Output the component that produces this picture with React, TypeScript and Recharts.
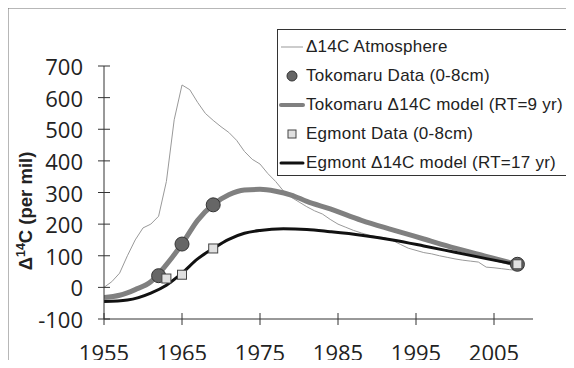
import React from "react";
import { ComposedChart, Line, Scatter, XAxis, YAxis, Legend, Customized } from "recharts";

// atmosphere record (thin grey line)
const atmYears = [
  1955, 1956, 1957, 1958, 1959, 1960, 1961, 1962, 1963, 1964, 1965, 1966, 1967, 1968,
  1969, 1970, 1971, 1972, 1973, 1974, 1975, 1976, 1977, 1978, 1979, 1980, 1981, 1982,
  1983, 1984, 1985, 1986, 1987, 1988, 1989, 1990, 1991, 1992, 1993, 1994, 1995, 1996,
  1997, 1998, 1999, 2000, 2001, 2002, 2003, 2004, 2005, 2006, 2007, 2008,
];
const atmValues = [
  0, 18, 45, 100, 150, 188, 200, 225, 335, 530, 640, 625, 585, 550,
  528, 508, 490, 465, 430, 405, 390, 360, 335, 305, 285, 270, 255, 242,
  232, 215, 200, 190, 180, 172, 165, 160, 157, 148, 136, 124, 117, 110,
  106, 100, 95, 90, 86, 83, 80, 64, 62, 59, 56, 54,
];

// model curves
const tokoModelYears = [1955, 1957, 1959, 1961, 1963, 1965, 1967, 1969, 1971, 1973, 1975, 1977, 1979, 1981, 1984, 1988, 1992, 1996, 2000, 2004, 2008];
const tokoModelValues = [-32, -25, -7, 18, 72, 137, 212, 262, 293, 308, 310, 304, 292, 272, 248, 212, 182, 153, 124, 98, 72];
const egmModelYears = [1955, 1958, 1961, 1963, 1965, 1967, 1969, 1971, 1973, 1975, 1978, 1981, 1984, 1988, 1992, 1996, 2000, 2004, 2008];
const egmModelValues = [-45, -40, -18, 7, 45, 90, 123, 152, 171, 180, 185, 183, 176, 165, 150, 131, 111, 91, 72];

// measured samples
const tokoDataYears = [1962, 1965, 1969, 2008];
const tokoDataValues = [37, 137, 261, 73];
const egmDataYears = [1963, 1965, 1969, 2008];
const egmDataValues = [28, 40, 123, 73];

const xTicks = [1955, 1965, 1975, 1985, 1995, 2005];
const yTicks = [-100, 0, 100, 200, 300, 400, 500, 600, 700];

const legendLabels = [
  "\u039414C Atmosphere",
  "Tokomaru Data (0-8cm)",
  "Tokomaru \u039414C model (RT=9 yr)",
  "Egmont Data (0-8cm)",
  "Egmont \u039414C model (RT=17 yr)",
];

const toRows = (xs: number[], vs: number[]) => xs.map((year, i) => ({ year, v: vs[i] }));

const atm = toRows(atmYears, atmValues);
const tokoModel = toRows(tokoModelYears, tokoModelValues);
const egmModel = toRows(egmModelYears, egmModelValues);
const tokoData = toRows(tokoDataYears, tokoDataValues);
const egmData = toRows(egmDataYears, egmDataValues);

const tickFont = "'Open Sans', sans-serif";

const YTick = ({ x, y, payload }: any) => (
  <g>
    <line x1={x - 6} x2={x + 6} y1={y} y2={y} stroke="#333" />
    <text x={x - 21} y={y} textAnchor="end" dominantBaseline="central" fontSize={22} fill="#222" fontFamily={tickFont}>
      {payload.value}
    </text>
  </g>
);

const XTick = ({ x, y, payload }: any) => (
  <g>
    <line x1={x} x2={x} y1={y - 6} y2={y + 6} stroke="#333" />
    <text x={x} y={y + 33} textAnchor="middle" dominantBaseline="central" fontSize={22} fill="#222" fontFamily={tickFont}>
      {payload.value}
    </text>
  </g>
);

const Dot = (p: any) => <circle cx={p.cx} cy={p.cy} r={7} fill="#666" stroke="#333" strokeWidth={1} />;
const Box = (p: any) => <rect x={p.cx - 4.5} y={p.cy - 4.5} width={9} height={9} fill="#e0e0e0" stroke="#444" strokeWidth={1} />;

const icons = [
  <line x1={3} x2={25} y1={10} y2={10} stroke="#999" strokeWidth={1} />,
  <circle cx={14} cy={10} r={5} fill="#666" stroke="#333" />,
  <line x1={3} x2={25} y1={10} y2={10} stroke="#808080" strokeWidth={4} strokeLinecap="round" />,
  <rect x={10} y={6} width={8} height={8} fill="#e0e0e0" stroke="#444" />,
  <line x1={3} x2={25} y1={10} y2={10} stroke="#111" strokeWidth={3} strokeLinecap="round" />,
];

const LegendBox = () => (
  <div
    style={{
      boxSizing: "border-box",
      width: 292,
      height: 145,
      background: "#fff",
      paddingTop: 2,
      fontFamily: "'Liberation Sans', Arial, sans-serif",
      fontSize: 17,
      letterSpacing: 0.25,
      color: "#222",
      overflow: "hidden",
    }}
  >
    {legendLabels.map((label, i) => (
      <div key={label} style={{ height: 29.2, display: "flex", alignItems: "center", whiteSpace: "nowrap" }}>
        <svg width={28} height={20} style={{ flex: "none" }}>
          {icons[i]}
        </svg>
        <span>{label}</span>
      </div>
    ))}
  </div>
);

// outer frame and legend outline
const Frame = () => (
  <g>
    <path d="M7.5 368 V7.5 H574" fill="none" stroke="#707070" strokeWidth={2} />
    <rect x={277.5} y={29.5} width={293} height={146} fill="#fff" stroke="#333" strokeWidth={1} />
  </g>
);

export default function App() {
  return (
    <div style={{ position: "relative", width: 574, height: 368, margin: -8, overflow: "hidden", background: "#fff" }}>
      <ComposedChart width={574} height={368} margin={{ top: 66, right: 41, bottom: 0, left: 0 }}>
        <Customized component={Frame} />
        <XAxis
          type="number"
          dataKey="year"
          domain={[1955, 2010]}
          ticks={xTicks}
          height={49}
          tickSize={0}
          tickMargin={0}
          tickLine={false}
          axisLine={{ stroke: "#333" }}
          tick={<XTick />}
          allowDataOverflow
        />
        <YAxis
          type="number"
          domain={[-100, 700]}
          ticks={yTicks}
          width={104}
          tickSize={0}
          tickMargin={0}
          tickLine={false}
          axisLine={{ stroke: "#333" }}
          tick={<YTick />}
          label={{
            content: () => (
              <text
                transform="translate(32 211) rotate(-90)"
                textAnchor="middle"
                fontSize={18.5}
                fontWeight="bold"
                fill="#222"
                fontFamily="'Liberation Sans', Arial, sans-serif"
              >
                {"\u0394"}
                <tspan fontSize={12.5} dy={-7}>14</tspan>
                <tspan dy={7}>C (per mil)</tspan>
              </text>
            ),
          }}
        />
        <Legend
          layout="horizontal"
          verticalAlign="middle"
          align="center"
          content={<LegendBox />}
          wrapperStyle={{ position: "absolute", left: 278, top: 30, width: 292, height: 145 }}
        />
        <Line data={atm} dataKey="v" type="linear" stroke="#999" strokeWidth={1} dot={false} isAnimationActive={false} legendType="none" />
        <Line data={tokoModel} dataKey="v" type="monotone" stroke="#808080" strokeWidth={5} dot={false} isAnimationActive={false} legendType="none" />
        <Line data={egmModel} dataKey="v" type="monotone" stroke="#111" strokeWidth={3} dot={false} isAnimationActive={false} legendType="none" />
        <Scatter data={tokoData} dataKey="v" shape={<Dot />} isAnimationActive={false} legendType="none" />
        <Scatter data={egmData} dataKey="v" shape={<Box />} isAnimationActive={false} legendType="none" />
      </ComposedChart>
    </div>
  );
}
